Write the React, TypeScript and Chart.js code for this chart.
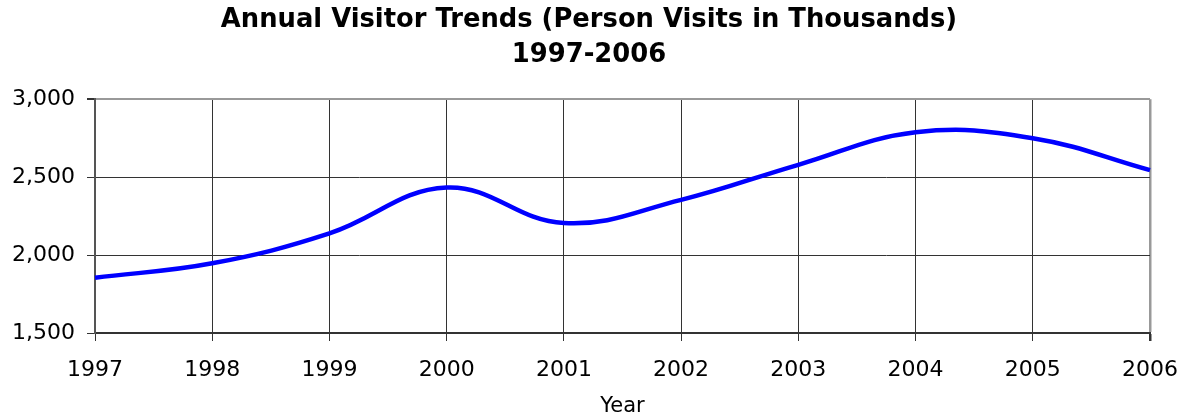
import React, { useEffect, useRef } from "react";
import { Chart, registerables } from "chart.js";

Chart.register(...registerables);

const years: string[] = ["1997", "1998", "1999", "2000", "2001", "2002", "2003", "2004", "2005", "2006"];
const visitors: number[] = [1855, 1947, 2139, 2433, 2205, 2354, 2579, 2788, 2750, 2545];
const titleLines: string[] = ["Annual Visitor Trends (Person Visits in Thousands)", "1997-2006"];
const xAxisTitle = "Year";
const yMin = 1500;
const yMax = 3000;
const yStep = 500;

export default function App() {
  const ref = useRef<HTMLCanvasElement | null>(null);

  useEffect(() => {
    document.body.style.margin = "0";
    const canvas = ref.current;
    if (!canvas) return;
    const font = "'DejaVu Sans', Verdana, sans-serif";
    const chart = new Chart(canvas, {
      type: "line",
      data: {
        labels: years,
        datasets: [
          {
            data: visitors,
            borderColor: "#0000FF",
            borderWidth: 4.5,
            pointRadius: 0,
            pointHoverRadius: 0,
            tension: 0.4,
            fill: false,
          },
        ],
      },
      options: {
        responsive: false,
        animation: false,
        events: [],
        layout: { padding: { left: 0, right: 7, top: 0, bottom: 0 } },
        plugins: {
          legend: { display: false },
          tooltip: { enabled: false },
          title: {
            display: true,
            text: titleLines,
            color: "#000",
            font: { family: font, size: 25.8, weight: "bold", lineHeight: 1.37 },
            padding: { top: 2.5, bottom: 26 },
          },
        },
        scales: {
          x: {
            type: "category",
            offset: false,
            afterFit: (s: any) => {
              s.height = 85;
              s.paddingLeft = 0;
              s.paddingRight = 35;
            },
            grid: {
              offset: false,
              drawTicks: true,
              tickLength: 8,
              tickColor: "#333",
              color: (ctx: any) => (ctx.index === years.length - 1 ? "#999" : "#333"),
              lineWidth: (ctx: any) => (ctx.index === years.length - 1 ? 2.5 : 1),
            },
            border: { display: true, color: "#333", width: 2 },
            ticks: {
              color: "#000",
              font: { family: font, size: 22 },
              padding: 16,
              maxRotation: 0,
              autoSkip: false,
            },
            title: {
              display: true,
              text: xAxisTitle,
              color: "#000",
              font: { family: font, size: 21, lineHeight: 1.1 },
              padding: { top: 0, bottom: 0 },
            },
          },
          y: {
            type: "linear",
            min: yMin,
            max: yMax,
            afterFit: (s: any) => {
              s.width = 95;
            },
            grid: {
              drawTicks: true,
              tickLength: 8,
              tickColor: "#333",
              color: (ctx: any) => (ctx.tick && ctx.tick.value === yMax ? "#999" : "#333"),
              lineWidth: (ctx: any) => (ctx.tick && ctx.tick.value === yMax ? 2 : 1),
            },
            border: { display: true, color: "#555", width: 2 },
            ticks: {
              stepSize: yStep,
              color: "#000",
              font: { family: font, size: 22 },
              padding: 12,
              callback: (v: any) => Number(v).toLocaleString("en-US"),
            },
          },
        },
      },
    });
    return () => chart.destroy();
  }, []);

  return (
    <div style={{ width: 1185, height: 418, background: "#fff" }}>
      <canvas ref={ref} width={1185} height={418} style={{ display: "block" }} />
    </div>
  );
}
